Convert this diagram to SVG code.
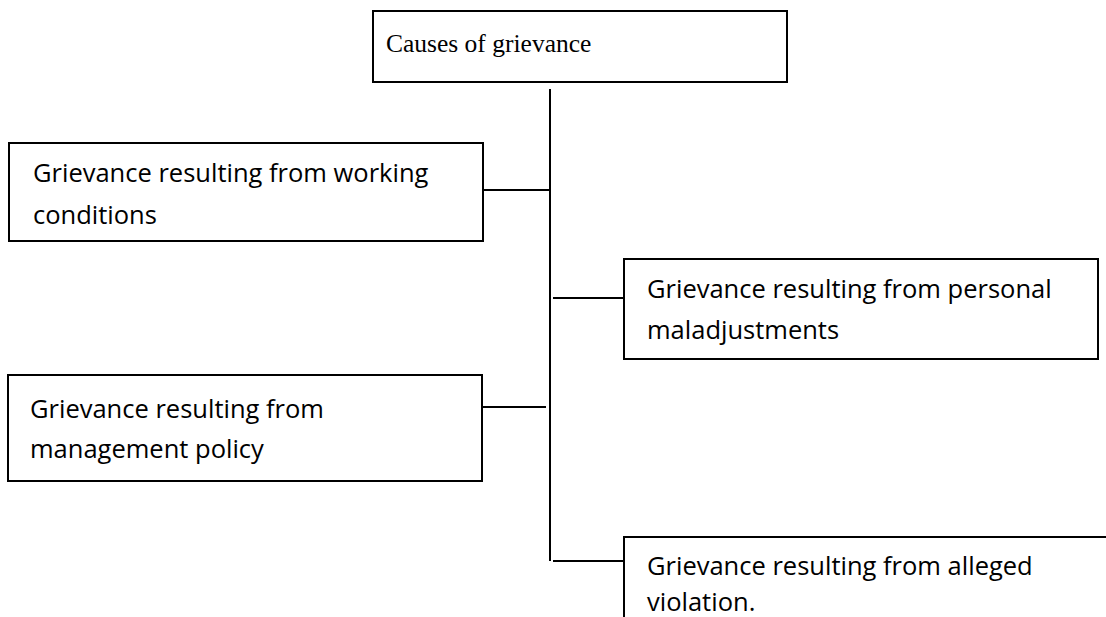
<svg xmlns="http://www.w3.org/2000/svg" width="1106" height="617" viewBox="0 0 1106 617">
<style>
.box{fill:#fff;stroke:#000;stroke-width:2}
.line{stroke:#000;stroke-width:2;fill:none}
.t{font-family:"Open Sans","Noto Sans",sans-serif;font-size:25.5px;fill:#000}
.title{font-family:"Liberation Serif","Times New Roman",serif;font-size:25.5px;fill:#000}
</style>
<rect width="1106" height="617" fill="#fff"/>
<g id="connectors">
<line class="line" x1="550" y1="89" x2="550" y2="561"/>
<line class="line" x1="483" y1="190" x2="550" y2="190"/>
<line class="line" x1="553" y1="298" x2="624" y2="298"/>
<line class="line" x1="483" y1="407" x2="546" y2="407"/>
<line class="line" x1="553" y1="561" x2="624" y2="561"/>
</g>
<g id="root">
<rect class="box" x="373" y="11" width="414" height="71"/>
<text class="title" x="386" y="52">Causes of grievance</text>
</g>
<g id="working">
<rect class="box" x="9" y="143" width="474" height="98"/>
<text class="t" x="33" y="182">Grievance resulting from working</text>
<text class="t" x="33" y="224">conditions</text>
</g>
<g id="personal">
<rect class="box" x="624" y="259" width="474" height="100"/>
<text class="t" x="647" y="298">Grievance resulting from personal</text>
<text class="t" x="647" y="339">maladjustments</text>
</g>
<g id="management">
<rect class="box" x="8" y="375" width="474" height="106"/>
<text class="t" x="30" y="418">Grievance resulting from</text>
<text class="t" x="30" y="458">management policy</text>
</g>
<g id="violation">
<path class="line" d="M624,618 V537 H1108"/>
<text class="t" x="647" y="575">Grievance resulting from alleged</text>
<text class="t" x="647" y="611">violation.</text>
</g>
</svg>
